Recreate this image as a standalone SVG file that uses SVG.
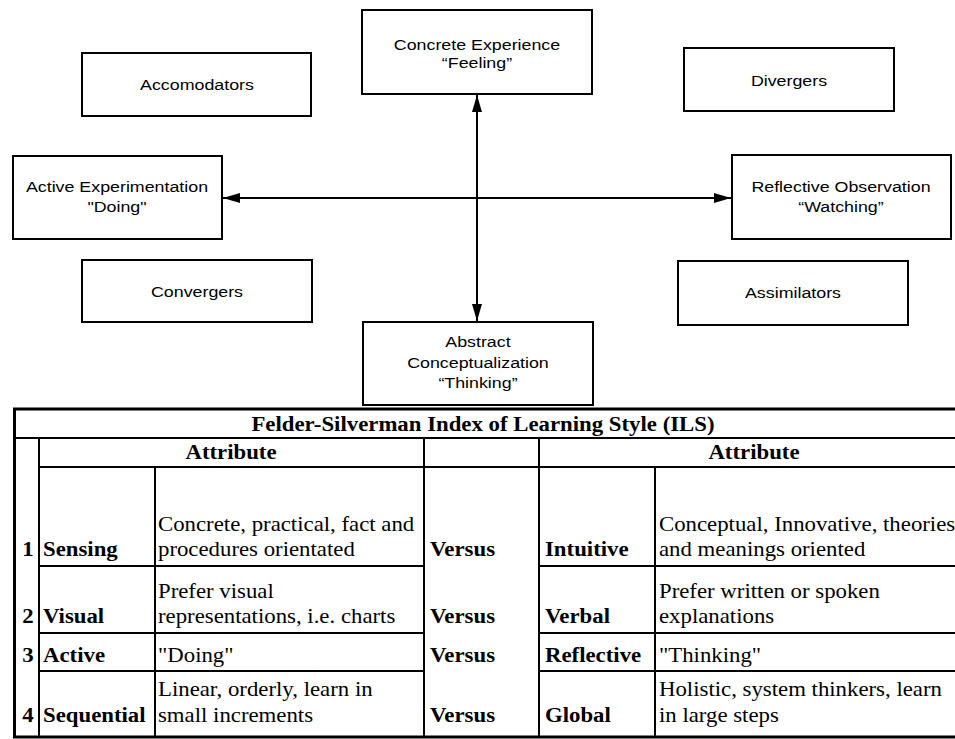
<svg xmlns="http://www.w3.org/2000/svg" width="955" height="739" viewBox="0 0 955 739">
<style>
.box{fill:#fff;stroke:#000;stroke-width:2}
.lbl{font-family:"Liberation Sans",Arial,sans-serif;font-size:15.5px;fill:#000;text-anchor:middle;transform-box:fill-box;transform-origin:50% 50%;transform:scaleX(1.15)}
.conn{stroke:#000;stroke-width:2;fill:none;marker-start:url(#ah);marker-end:url(#ah)}
.t{font-family:"Liberation Serif","Times New Roman",serif;font-size:20px;fill:#000;transform-box:fill-box;transform-origin:0 0;transform:scaleX(1.14)}
.b{font-weight:bold}
.c{text-anchor:middle;transform-origin:50% 0}
.ol{stroke:#000;stroke-width:3}
.il{stroke:#000;stroke-width:2}
</style>
<defs>
<marker id="ah" viewBox="0 0 17 10" refX="17" refY="5" markerWidth="17" markerHeight="10" markerUnits="userSpaceOnUse" orient="auto-start-reverse">
<path d="M0,0 L17,5 L0,10 z" fill="#000"/>
</marker>
</defs>
<rect width="955" height="739" fill="#fff"/>

<g id="connectors">
<line class="conn" x1="477" y1="95" x2="477" y2="321"/>
<line class="conn" x1="223" y1="198" x2="731" y2="198"/>
</g>

<g id="concrete">
<rect class="box" x="362" y="10" width="230" height="84"/>
<text class="lbl" x="477" y="50">Concrete Experience</text>
<text class="lbl" x="477" y="68">“Feeling”</text>
</g>
<g id="accomodators">
<rect class="box" x="82" y="53" width="229" height="63"/>
<text class="lbl" x="197" y="90">Accomodators</text>
</g>
<g id="divergers">
<rect class="box" x="684" y="48" width="210" height="63"/>
<text class="lbl" x="789" y="86">Divergers</text>
</g>
<g id="active">
<rect class="box" x="13" y="156" width="209" height="83"/>
<text class="lbl" x="117" y="192">Active Experimentation</text>
<text class="lbl" x="117" y="212">"Doing"</text>
</g>
<g id="reflective">
<rect class="box" x="732" y="155" width="219" height="84"/>
<text class="lbl" x="841" y="192">Reflective Observation</text>
<text class="lbl" x="841" y="212">“Watching”</text>
</g>
<g id="convergers">
<rect class="box" x="82" y="260" width="230" height="62"/>
<text class="lbl" x="197" y="297">Convergers</text>
</g>
<g id="assimilators">
<rect class="box" x="678" y="261" width="230" height="64"/>
<text class="lbl" x="793" y="298">Assimilators</text>
</g>
<g id="abstract">
<rect class="box" x="363" y="322" width="230" height="83"/>
<text class="lbl" x="478" y="347">Abstract</text>
<text class="lbl" x="478" y="368">Conceptualization</text>
<text class="lbl" x="478" y="388">“Thinking”</text>
</g>

<g id="ils-table">
<line class="ol" x1="13" y1="409" x2="955" y2="409"/>
<line class="ol" x1="14.5" y1="408" x2="14.5" y2="738"/>
<line class="ol" x1="13" y1="737" x2="955" y2="737"/>
<line class="il" x1="14" y1="438" x2="955" y2="438"/>
<line class="il" x1="39" y1="467" x2="955" y2="467"/>
<line class="il" x1="39" y1="566" x2="424" y2="566"/>
<line class="il" x1="539" y1="566" x2="955" y2="566"/>
<line class="il" x1="39" y1="633" x2="424" y2="633"/>
<line class="il" x1="539" y1="633" x2="955" y2="633"/>
<line class="il" x1="39" y1="671" x2="424" y2="671"/>
<line class="il" x1="539" y1="671" x2="955" y2="671"/>
<line class="il" x1="39" y1="438" x2="39" y2="737"/>
<line class="il" x1="155" y1="467" x2="155" y2="737"/>
<line class="il" x1="424" y1="438" x2="424" y2="737"/>
<line class="il" x1="539" y1="438" x2="539" y2="737"/>
<line class="il" x1="655" y1="467" x2="655" y2="737"/>

<text class="t b c" x="483" y="431">Felder-Silverman Index of Learning Style (ILS)</text>
<text class="t b c" x="231" y="459">Attribute</text>
<text class="t b c" x="754" y="459">Attribute</text>

<text class="t b c" x="28" y="556">1</text>
<text class="t b" x="43" y="556">Sensing</text>
<text class="t" x="158" y="531">Concrete, practical, fact and</text>
<text class="t" x="158" y="556">procedures orientated</text>
<text class="t b" x="430" y="556">Versus</text>
<text class="t b" x="545" y="556">Intuitive</text>
<text class="t" x="659" y="531">Conceptual, Innovative, theories</text>
<text class="t" x="659" y="556">and meanings oriented</text>

<text class="t b c" x="28" y="623">2</text>
<text class="t b" x="43" y="623">Visual</text>
<text class="t" x="158" y="598">Prefer visual</text>
<text class="t" x="158" y="623">representations, i.e. charts</text>
<text class="t b" x="430" y="623">Versus</text>
<text class="t b" x="545" y="623">Verbal</text>
<text class="t" x="659" y="598">Prefer written or spoken</text>
<text class="t" x="659" y="623">explanations</text>

<text class="t b c" x="28" y="662">3</text>
<text class="t b" x="43" y="662">Active</text>
<text class="t" x="158" y="662">"Doing"</text>
<text class="t b" x="430" y="662">Versus</text>
<text class="t b" x="545" y="662">Reflective</text>
<text class="t" x="659" y="662">"Thinking"</text>

<text class="t b c" x="28" y="722">4</text>
<text class="t b" x="43" y="722">Sequential</text>
<text class="t" x="158" y="696">Linear, orderly, learn in</text>
<text class="t" x="158" y="722">small increments</text>
<text class="t b" x="430" y="722">Versus</text>
<text class="t b" x="545" y="722">Global</text>
<text class="t" x="659" y="696">Holistic, system thinkers, learn</text>
<text class="t" x="659" y="722">in large steps</text>
</g>
</svg>
